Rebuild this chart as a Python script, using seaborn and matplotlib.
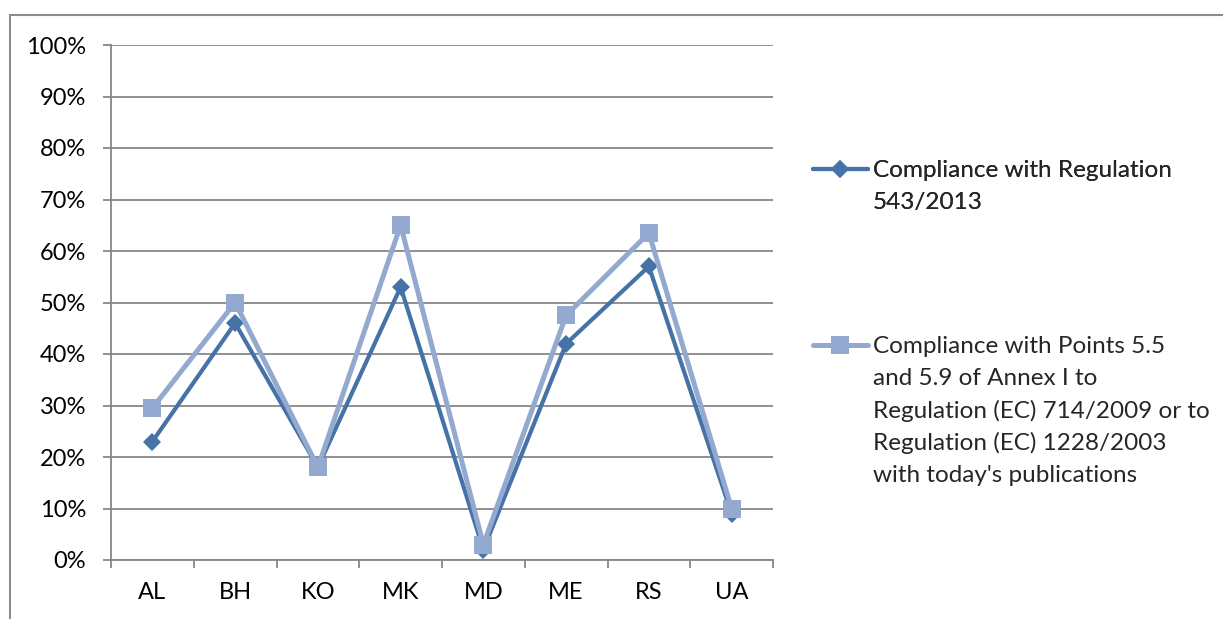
import pandas as pd
import seaborn as sns
import matplotlib.pyplot as plt
import matplotlib.ticker as ticker
from matplotlib.lines import Line2D
from matplotlib.patches import Rectangle

countries = ["AL", "BH", "KO", "MK", "MD", "ME", "RS", "UA"]
reg_543 = [0.23, 0.46, 0.18, 0.53, 0.02, 0.42, 0.57, 0.09]
points_55_59 = [0.295, 0.50, 0.18, 0.65, 0.03, 0.475, 0.635, 0.10]

label_1 = ["Compliance with Regulation", "543/2013"]
label_2 = ["Compliance with Points 5.5", "and 5.9 of Annex I to",
           "Regulation (EC) 714/2009 or to", "Regulation (EC) 1228/2003",
           "with today's publications"]

DARK = "#4572A7"
LIGHT = "#94A9CF"
GRID = "#878787"
FS = 17.5

sns.set_theme(style="white")
plt.rcParams["font.family"] = ["Lato", "DejaVu Sans"]

df = pd.DataFrame({"country": countries, "s1": reg_543, "s2": points_55_59})

fig = plt.figure(figsize=(12.23, 6.19), dpi=100)
ax = fig.add_axes([111 / 1223, 59 / 619, 662 / 1223, 515 / 619])

sns.lineplot(data=df, x="country", y="s1", ax=ax, color=DARK, linewidth=3.0,
             marker="D", markersize=9, markeredgewidth=0, sort=False)
sns.lineplot(data=df, x="country", y="s2", ax=ax, color=LIGHT, linewidth=3.6,
             marker="s", markersize=13, markeredgewidth=0, sort=False)

ax.set_xlim(-0.5, len(countries) - 0.5)
ax.set_ylim(0, 1)
ax.set_yticks([i / 10 for i in range(11)])
ax.yaxis.set_major_formatter(ticker.PercentFormatter(1.0, decimals=0))
ax.set_xticks(range(len(countries)))
ax.set_xticklabels(countries)
ax.set_xticks([i - 0.5 for i in range(len(countries) + 1)], minor=True)
ax.tick_params(axis="x", which="major", length=0, pad=16, labelsize=17, labelcolor="black")
ax.tick_params(axis="x", which="minor", length=6, width=1.3, color=GRID, direction="out", bottom=True)
ax.tick_params(axis="y", length=6, width=1.3, color=GRID, direction="out", left=True, pad=12,
               labelsize=17, labelcolor="black")
ax.set_xlabel("")
ax.set_ylabel("")
ax.grid(True, axis="y", color=GRID, linewidth=1.3)
ax.grid(False, axis="x")
ax.set_axisbelow(True)
for side in ["top", "right"]:
    ax.spines[side].set_visible(False)
for side in ["left", "bottom"]:
    ax.spines[side].set_color(GRID)
    ax.spines[side].set_linewidth(1.3)


def make_legend(handle, lines, top):
    blank = Line2D([], [], linestyle="none")
    handles = [handle] + [blank] * (len(lines) - 1)
    leg = fig.legend(handles, lines, loc="upper left", bbox_to_anchor=(813 / 1223, top),
                     frameon=False, fontsize=FS, handlelength=2.25, handletextpad=0.2,
                     labelspacing=0.44, borderpad=0, borderaxespad=0)
    return leg


h1 = Line2D([], [], color=DARK, linewidth=3.0, marker="D", markersize=9, markeredgewidth=0)
h2 = Line2D([], [], color=LIGHT, linewidth=3.6, marker="s", markersize=13, markeredgewidth=0)
leg1 = make_legend(h1, label_1, 1 - 160 / 619)
fig.add_artist(leg1)
make_legend(h2, label_2, 1 - 336 / 619)

fig.patches.append(Rectangle((10 / 1223, -0.1), 1.1, 1.1 - 15 / 619, transform=fig.transFigure,
                             fill=False, edgecolor="#8c8c8c", linewidth=1.5))

fig.savefig("out.png", dpi=100)
